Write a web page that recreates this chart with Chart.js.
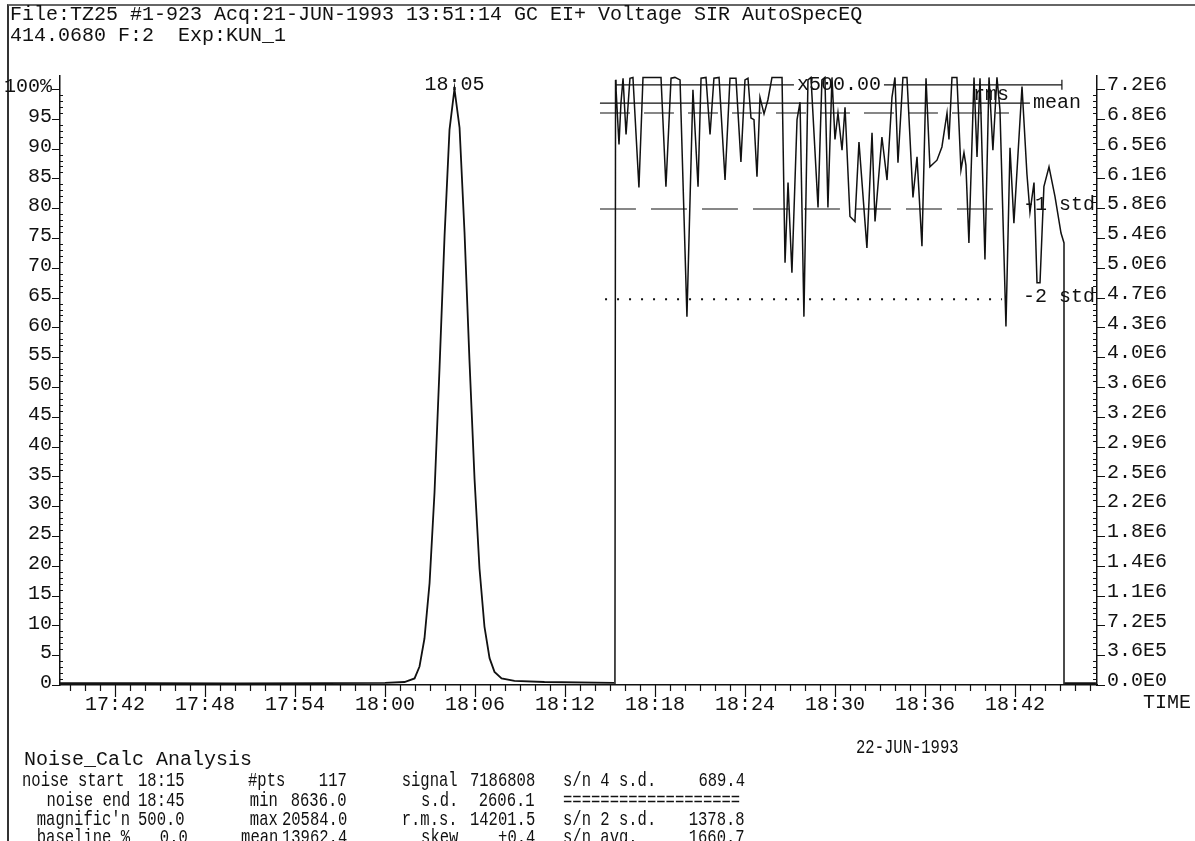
<!DOCTYPE html>
<html>
<head>
<meta charset="utf-8">
<title>Noise_Calc Analysis</title>
<script src="https://cdn.jsdelivr.net/npm/chart.js@4.4.1/dist/chart.umd.min.js"></script>
<style>
  body { margin: 0; background: #fff; }
  #hoja { position: relative; width: 1195px; height: 841px; overflow: hidden; background: #fff; }
  #grafico { position: absolute; left: 0; top: 0; }
  #marco { position: absolute; left: 7px; top: 4px; right: -4px; bottom: -4px; border-left: 2px solid #333; border-top: 2px solid #666; }
  .t { position: absolute; font-family: 'Liberation Mono', monospace; font-size: 20px; line-height: 20px; white-space: pre; color: #111; }
  .n, .r { font-size: 21px; }
  .n { transform: scaleX(0.74); transform-origin: left center; }
  .r { transform: scaleX(0.74); transform-origin: right center; text-align: right; }
</style>
</head>
<body>
<div id="hoja">
  <div id="marco"></div>
  <canvas id="grafico" width="1195" height="841"></canvas>

  <div class="t" style="left:10px;top:5px">File:TZ25 #1-923 Acq:21-JUN-1993 13:51:14 GC EI+ Voltage SIR AutoSpecEQ</div>
  <div class="t" style="left:10px;top:26px">414.0680 F:2  Exp:KUN_1</div>
  <div class="t" style="left:1143px;top:693px">TIME</div>
  <div class="t" style="left:24px;top:750px">Noise_Calc Analysis</div>
  <div class="t n" style="left:856px;top:738px">22-JUN-1993</div>

  <!-- tabla de ruido -->
  <div class="t n" style="left:22px;top:771px">noise start</div>
  <div class="t n" style="left:138px;top:771px">18:15</div>
  <div class="t n" style="left:248px;top:771px">#pts</div>
  <div class="t r" style="right:848px;top:771px">117</div>
  <div class="t r" style="right:737px;top:771px">signal</div>
  <div class="t r" style="right:660px;top:771px">7186808</div>
  <div class="t n" style="left:563px;top:771px">s/n 4 s.d.</div>
  <div class="t r" style="right:450px;top:771px">689.4</div>

  <div class="t r" style="right:1065px;top:791px">noise end</div>
  <div class="t n" style="left:138px;top:791px">18:45</div>
  <div class="t r" style="right:917px;top:791px">min</div>
  <div class="t r" style="right:848px;top:791px">8636.0</div>
  <div class="t r" style="right:737px;top:791px">s.d.</div>
  <div class="t r" style="right:660px;top:791px">2606.1</div>
  <div class="t n" style="left:563px;top:791px">===================</div>

  <div class="t r" style="right:1065px;top:810px">magnific'n</div>
  <div class="t n" style="left:138px;top:810px">500.0</div>
  <div class="t r" style="right:917px;top:810px">max</div>
  <div class="t r" style="right:848px;top:810px">20584.0</div>
  <div class="t r" style="right:737px;top:810px">r.m.s.</div>
  <div class="t r" style="right:660px;top:810px">14201.5</div>
  <div class="t n" style="left:563px;top:810px">s/n 2 s.d.</div>
  <div class="t r" style="right:450px;top:810px">1378.8</div>

  <div class="t r" style="right:1065px;top:828px">baseline %</div>
  <div class="t r" style="right:1007px;top:828px">0.0</div>
  <div class="t r" style="right:917px;top:828px">mean</div>
  <div class="t r" style="right:848px;top:828px">13962.4</div>
  <div class="t r" style="right:737px;top:828px">skew</div>
  <div class="t r" style="right:660px;top:828px">+0.4</div>
  <div class="t n" style="left:563px;top:828px">s/n avg.</div>
  <div class="t r" style="right:450px;top:828px">1660.7</div>
</div>

<script>
// tiempos en minutos desde las 17:00
const mainTimes = [38.33, 44.0, 50.0, 56.0, 60.0, 61.3, 61.97, 62.30, 62.63, 62.97, 63.30, 63.63, 63.97, 64.30, 64.63,
  64.97, 65.30, 65.63, 65.97, 66.30, 66.63, 66.97, 67.30, 67.77, 68.63, 70.63, 75.27, 90.0, 105.3, 107.4];
// % del pico
const mainValues = [0.3, 0.3, 0.25, 0.3, 0.35, 0.5, 1.1, 3.1, 7.8, 17.1, 32.3, 52.9, 75.4, 93.2, 100,
  93.5, 76.0, 54.5, 34.5, 19.5, 9.8, 4.5, 2.2, 1.1, 0.7, 0.5, 0.35, null, 0.3, 0.3];

// traza de ruido x500 (eje derecho, millones)
const noiseTimes = [75.33, 75.37, 75.60, 75.73, 75.87, 76.07, 76.33, 76.53, 76.93, 77.20, 78.40, 78.73, 79.07, 79.33, 79.67,
  80.13, 80.53, 80.87, 81.07, 81.40, 81.67, 81.93, 82.27, 82.67, 83.00, 83.40, 83.73, 84.00, 84.20, 84.40,
  84.60, 84.80, 85.00, 85.27, 85.53, 85.80, 86.47, 86.67, 86.87, 87.13, 87.47, 87.67, 87.93, 88.20, 88.40,
  88.87, 89.13, 89.33, 89.53, 89.80, 90.00, 90.20, 90.47, 90.67, 91.00, 91.33, 91.60, 92.13, 92.47, 92.67,
  93.13, 93.47, 93.80, 94.00, 94.20, 94.53, 94.80, 95.20, 95.47, 95.80, 96.07, 96.33, 96.80, 97.13, 97.47,
  97.60, 97.80, 98.13, 98.40, 98.60, 98.73, 98.93, 99.27, 99.47, 99.67, 100.00, 100.27, 100.53, 100.80, 101.00,
  101.40, 101.67, 101.93, 102.47, 102.80, 103.00, 103.27, 103.47, 103.67, 103.93, 104.27, 104.67, 105.07, 105.27, 105.27];
const noiseValues = [0, 7.31, 6.53, 7.03, 7.33, 6.65, 7.33, 7.34, 6.01, 7.34, 7.34, 6.02, 7.33, 7.34, 7.31,
  4.45, 7.19, 6.02, 7.33, 7.34, 6.65, 7.33, 7.34, 6.10, 7.33, 7.33, 6.32, 7.31, 7.33, 6.85,
  6.83, 6.14, 7.10, 6.90, 7.07, 7.34, 7.34, 5.10, 6.07, 4.98, 6.83, 7.04, 4.45, 7.31, 7.34,
  5.77, 7.31, 7.34, 5.77, 7.34, 6.59, 6.91, 6.46, 6.98, 5.66, 5.60, 6.56, 5.28, 6.67, 5.60,
  6.62, 6.10, 7.10, 7.34, 6.31, 7.34, 7.34, 5.89, 6.38, 5.30, 7.33, 6.26, 6.34, 6.50, 6.91,
  6.59, 7.34, 7.34, 6.22, 6.43, 6.28, 5.34, 7.34, 6.38, 7.33, 5.14, 7.34, 6.46, 7.34, 6.95,
  4.33, 6.49, 5.58, 7.23, 6.17, 5.71, 6.07, 4.86, 4.86, 6.02, 6.26, 5.90, 5.46, 5.34, 0];

// niveles horizontales de la ventana de ruido
const levelNames = ['x500.00', 'mean', 'rms', '-1 std', '-2 std'];
const levelValues = [7.25, 7.03, 6.91, 5.75, 4.66];
const levelStart = [75.4, 74.33, 74.33, 74.33, 74.67];
const levelEnd = [105.13, 103.0, 101.6, 101.6, 101.13];

const xTickValues = [42, 48, 54, 60, 66, 72, 78, 84, 90, 96, 102];
const xTickLabels = ['17:42', '17:48', '17:54', '18:00', '18:06', '18:12', '18:18', '18:24', '18:30', '18:36', '18:42'];
const leftTickValues = [0, 5, 10, 15, 20, 25, 30, 35, 40, 45, 50, 55, 60, 65, 70, 75, 80, 85, 90, 95, 100];
const leftTickLabels = ['0', '5', '10', '15', '20', '25', '30', '35', '40', '45', '50', '55', '60', '65', '70', '75', '80', '85', '90', '95', '100%'];
const rightTickValues = [0, 0.36, 0.72, 1.08, 1.44, 1.8, 2.16, 2.52, 2.88, 3.24, 3.6, 3.96, 4.32, 4.68, 5.04, 5.4, 5.76, 6.12, 6.48, 6.84, 7.2];
const rightTickLabels = ['0.0E0', '3.6E5', '7.2E5', '1.1E6', '1.4E6', '1.8E6', '2.2E6', '2.5E6', '2.9E6', '3.2E6', '3.6E6',
  '4.0E6', '4.3E6', '4.7E6', '5.0E6', '5.4E6', '5.8E6', '6.1E6', '6.5E6', '6.8E6', '7.2E6'];
const peakLabel = '18:05';

const TINTA = '#111';
const FUENTE = "'Liberation Mono', monospace";

function puntos(xs, ys) {
  return xs.map((x, i) => ({ x: x, y: ys[i] }));
}

const datasets = [
  { data: puntos(noiseTimes, noiseValues), yAxisID: 'y2', borderWidth: 1.5 },
  { data: puntos(mainTimes, mainValues), yAxisID: 'y', borderWidth: 1.8 }
];
const dashes = [[], [], [30, 14], [36, 15], [2, 10]];
levelNames.forEach((n, i) => {
  datasets.push({
    label: n,
    data: [{ x: levelStart[i], y: levelValues[i] }, { x: levelEnd[i], y: levelValues[i] }],
    yAxisID: 'y2',
    borderWidth: i === 4 ? 2 : 1.2,
    borderDash: dashes[i]
  });
});
datasets.forEach(d => {
  d.borderColor = TINTA;
  d.pointRadius = 0;
  d.tension = 0;
  d.fill = false;
});

// marcas de ejes (menores y mayores)
const marcas = {
  id: 'marcas',
  afterDraw(chart) {
    const { ctx, chartArea } = chart;
    const x = chart.scales.x, y = chart.scales.y;
    ctx.save();
    ctx.strokeStyle = TINTA;
    ctx.lineWidth = 1.2;
    ctx.beginPath();
    for (let m = Math.ceil(x.min); m <= x.max; m++) {
      const px = Math.round(x.getPixelForValue(m)) + 0.5;
      const len = xTickValues.includes(m) ? 12 : 6;
      ctx.moveTo(px, chartArea.bottom);
      ctx.lineTo(px, chartArea.bottom + len);
    }
    for (let p = 0; p <= 100; p++) {
      const py = Math.round(y.getPixelForValue(p)) + 0.5;
      if (leftTickValues.includes(p)) {
        ctx.moveTo(chartArea.left - 8, py); ctx.lineTo(chartArea.left, py);
        ctx.moveTo(chartArea.right, py); ctx.lineTo(chartArea.right + 8, py);
      } else {
        ctx.moveTo(chartArea.left, py); ctx.lineTo(chartArea.left + 3, py);
        ctx.moveTo(chartArea.right - 4, py); ctx.lineTo(chartArea.right, py);
      }
    }
    ctx.stroke();
    ctx.restore();
  }
};

// textos sobre las lineas de nivel y el pico
const rotulos = {
  id: 'rotulos',
  afterDatasetDraw(chart, args) {
    if (args.index !== 2) return;
    const { ctx } = chart;
    const x = chart.scales.x, y2 = chart.scales.y2;
    const a = x.getPixelForValue(levelStart[0]);
    const b = x.getPixelForValue(levelEnd[0]);
    const py = y2.getPixelForValue(levelValues[0]);
    ctx.save();
    ctx.font = '20px ' + FUENTE;
    const w = ctx.measureText(levelNames[0]).width;
    const cx = (a + b) / 2;
    ctx.fillStyle = '#fff';
    ctx.fillRect(cx - w / 2 - 3, py - 9, w + 6, 18);
    ctx.fillStyle = TINTA;
    ctx.textAlign = 'center';
    ctx.textBaseline = 'middle';
    ctx.fillText(levelNames[0], cx, py);
    ctx.strokeStyle = TINTA;
    ctx.lineWidth = 1.2;
    ctx.beginPath();
    ctx.moveTo(a, py - 5); ctx.lineTo(a, py + 5);
    ctx.moveTo(b, py - 5); ctx.lineTo(b, py + 5);
    ctx.stroke();
    ctx.restore();
  },
  afterDatasetsDraw(chart) {
    const { ctx, chartArea } = chart;
    const x = chart.scales.x, y = chart.scales.y, y2 = chart.scales.y2;
    ctx.save();
    ctx.font = '20px ' + FUENTE;
    ctx.fillStyle = TINTA;
    ctx.textBaseline = 'middle';
    // pico
    let k = 0;
    mainValues.forEach((v, i) => { if (v !== null && v > mainValues[k]) k = i; });
    ctx.textAlign = 'center';
    ctx.fillText(peakLabel, x.getPixelForValue(mainTimes[k]), y.getPixelForValue(mainValues[k]) - 4);
    // niveles
    ctx.textAlign = 'left';
    ctx.fillText(levelNames[1], x.getPixelForValue(levelEnd[1]) + 3, y2.getPixelForValue(levelValues[1]));
    ctx.textAlign = 'right';
    ctx.textBaseline = 'alphabetic';
    ctx.fillText(levelNames[2], x.getPixelForValue(levelEnd[2]), y2.getPixelForValue(levelValues[1]) - 3);
    ctx.textAlign = 'left';
    ctx.textBaseline = 'middle';
    ctx.fillText(levelNames[3], chartArea.right - 74, y2.getPixelForValue(levelValues[3]) - 4);
    ctx.fillText(levelNames[4], chartArea.right - 74, y2.getPixelForValue(levelValues[4]) - 3);
    ctx.restore();
  }
};

const fuenteEje = { family: FUENTE, size: 20 };

new Chart(document.getElementById('grafico'), {
  type: 'line',
  data: { datasets: datasets },
  options: {
    responsive: false,
    animation: false,
    events: [],
    layout: { padding: { left: 0, right: 0, top: 76, bottom: 0 } },
    plugins: { legend: { display: false }, tooltip: { enabled: false } },
    scales: {
      x: {
        type: 'linear',
        min: 38.33,
        max: 107.47,
        afterFit: (s) => { s.height = 156; },
        afterBuildTicks: (s) => { s.ticks = xTickValues.map(v => ({ value: v })); },
        grid: { display: false, drawTicks: false },
        border: { display: true, color: TINTA, width: 1.5 },
        ticks: {
          autoSkip: false, maxRotation: 0, padding: 8, color: TINTA, font: fuenteEje,
          callback: (v, i) => xTickLabels[i]
        }
      },
      y: {
        type: 'linear',
        position: 'left',
        min: 0,
        max: 102.18,
        afterFit: (s) => { s.width = 60; },
        afterBuildTicks: (s) => { s.ticks = leftTickValues.map(v => ({ value: v })); },
        grid: { display: false, drawTicks: false },
        border: { display: true, color: TINTA, width: 1.5 },
        ticks: {
          autoSkip: false, padding: 8, labelOffset: -2, color: TINTA, font: fuenteEje,
          callback: (v, i) => leftTickLabels[i]
        }
      },
      y2: {
        type: 'linear',
        position: 'right',
        min: 0,
        max: 7.357,
        afterFit: (s) => { s.width = 98; },
        afterBuildTicks: (s) => { s.ticks = rightTickValues.map(v => ({ value: v })); },
        grid: { display: false, drawTicks: false },
        border: { display: true, color: TINTA, width: 1.5 },
        ticks: {
          autoSkip: false, padding: 10, labelOffset: -4, color: TINTA, font: fuenteEje,
          callback: (v, i) => rightTickLabels[i]
        }
      }
    }
  },
  plugins: [marcas, rotulos]
});
</script>
</body>
</html>
